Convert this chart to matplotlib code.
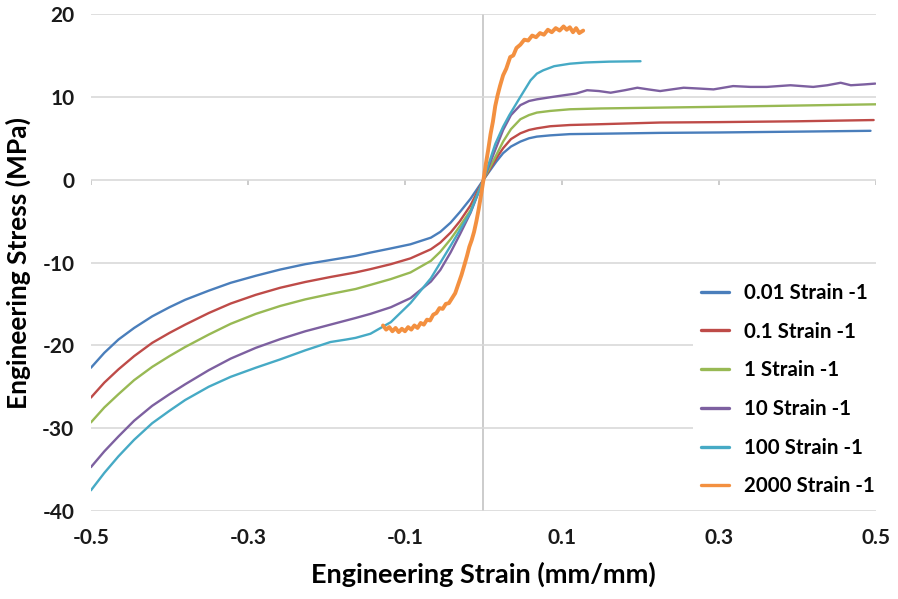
import matplotlib
matplotlib.use("Agg")
import matplotlib.pyplot as plt
import matplotlib.transforms as mtransforms

plt.rcParams['font.family'] = ['Lato', 'DejaVu Sans']
plt.rcParams['axes.unicode_minus'] = False

# strain / stress readings for each rate
x_001 = [-0.5, -0.483, -0.465, -0.445, -0.422, -0.4, -0.38, -0.35, -0.322, -0.29, -0.259, -0.227, -0.195,
         -0.163, -0.144, -0.118, -0.093, -0.067, -0.055, -0.042, -0.03, -0.0165, 0.0, 0.0165, 0.025, 0.035,
         0.047, 0.058, 0.068, 0.085, 0.11, 0.15, 0.225, 0.3, 0.4, 0.493]
y_001 = [-22.7, -20.9, -19.3, -17.9, -16.5, -15.4, -14.5, -13.4, -12.45, -11.6, -10.85, -10.2, -9.7,
         -9.2, -8.8, -8.3, -7.8, -7.0, -6.3, -5.2, -3.9, -2.3, 0.0, 2.2, 3.2, 4.0,
         4.6, 5.0, 5.2, 5.35, 5.5, 5.55, 5.65, 5.7, 5.8, 5.9]

x_01 = [-0.5, -0.483, -0.465, -0.445, -0.422, -0.4, -0.38, -0.35, -0.322, -0.29, -0.259, -0.227, -0.195,
        -0.163, -0.144, -0.118, -0.093, -0.067, -0.055, -0.042, -0.03, -0.0165, 0.0, 0.0165, 0.025, 0.035,
        0.047, 0.058, 0.068, 0.085, 0.11, 0.15, 0.225, 0.3, 0.4, 0.497]
y_01 = [-26.3, -24.5, -22.9, -21.3, -19.7, -18.5, -17.5, -16.1, -14.95, -13.9, -13.05, -12.35, -11.75,
        -11.2, -10.8, -10.2, -9.5, -8.4, -7.6, -6.4, -5.0, -3.1, 0.0, 2.6, 3.8, 4.9,
        5.6, 6.0, 6.2, 6.45, 6.6, 6.7, 6.9, 6.95, 7.05, 7.2]

x_1 = [-0.5, -0.483, -0.465, -0.445, -0.422, -0.4, -0.38, -0.35, -0.322, -0.29, -0.259, -0.227, -0.195,
       -0.163, -0.144, -0.118, -0.093, -0.067, -0.055, -0.042, -0.03, -0.0165, 0.0, 0.0165, 0.025, 0.035,
       0.047, 0.058, 0.068, 0.085, 0.11, 0.15, 0.225, 0.3, 0.4, 0.5]
y_1 = [-29.3, -27.5, -25.9, -24.2, -22.6, -21.3, -20.2, -18.7, -17.4, -16.2, -15.25, -14.45, -13.8,
       -13.2, -12.7, -12.0, -11.2, -9.8, -8.7, -7.2, -5.6, -3.7, 0.0, 3.0, 4.6, 6.1,
       7.3, 7.8, 8.1, 8.3, 8.5, 8.6, 8.7, 8.8, 8.95, 9.1]

x_10 = [-0.5, -0.483, -0.465, -0.445, -0.422, -0.4, -0.38, -0.35, -0.322, -0.29, -0.259, -0.227, -0.195,
        -0.163, -0.144, -0.118, -0.093, -0.067, -0.055, -0.042, -0.03, -0.0165, 0.0, 0.015, 0.025, 0.035,
        0.047, 0.058, 0.068, 0.085, 0.103, 0.118, 0.132, 0.147, 0.162, 0.18, 0.196, 0.21, 0.225, 0.24, 0.255,
        0.275, 0.293, 0.318, 0.34, 0.361, 0.391, 0.42, 0.438, 0.455, 0.468, 0.485, 0.499]
y_10 = [-34.7, -32.8, -31.0, -29.1, -27.3, -25.9, -24.7, -23.0, -21.6, -20.3, -19.25, -18.3, -17.5,
        -16.7, -16.2, -15.4, -14.3, -12.3, -10.9, -8.8, -6.6, -4.0, 0.0, 3.6, 6.0, 7.8,
        9.0, 9.5, 9.7, 9.95, 10.2, 10.4, 10.8, 10.7, 10.5, 10.8, 11.1, 10.9, 10.7, 10.9, 11.1,
        11.0, 10.9, 11.3, 11.2, 11.2, 11.4, 11.2, 11.4, 11.7, 11.4, 11.5, 11.6]

x_100 = [-0.5, -0.483, -0.465, -0.445, -0.422, -0.4, -0.38, -0.35, -0.322, -0.29, -0.259, -0.227, -0.195,
         -0.175, -0.163, -0.144, -0.118, -0.093, -0.067, -0.042, -0.0165, 0.0, 0.015, 0.025, 0.033, 0.047,
         0.06, 0.068, 0.076, 0.09, 0.11, 0.13, 0.16, 0.2]
y_100 = [-37.5, -35.4, -33.4, -31.4, -29.4, -27.9, -26.6, -25.0, -23.8, -22.7, -21.7, -20.6, -19.6,
         -19.3, -19.1, -18.6, -17.2, -14.9, -11.9, -8.0, -3.9, 0.0, 4.3, 6.4, 7.8, 10.0,
         12.0, 12.8, 13.2, 13.7, 14.0, 14.15, 14.25, 14.3]

x_2000 = [-0.128, -0.124, -0.12, -0.116, -0.112, -0.108, -0.104, -0.1, -0.096, -0.092, -0.088, -0.084, -0.08,
          -0.076, -0.072, -0.068, -0.064, -0.06, -0.056, -0.052, -0.048, -0.044, -0.04, -0.036, -0.032, -0.028,
          -0.024, -0.021, -0.018, -0.015, -0.012, -0.009, -0.006, -0.003, 0.0, 0.003, 0.006, 0.009, 0.012,
          0.015, 0.018, 0.021, 0.025, 0.029, 0.034, 0.038, 0.042, 0.047, 0.052, 0.057, 0.062, 0.067, 0.072,
          0.077, 0.082, 0.087, 0.092, 0.097, 0.102, 0.106, 0.11, 0.114, 0.118, 0.122, 0.127]
y_2000 = [-17.6, -18.1, -17.8, -18.3, -17.9, -18.4, -18.0, -18.3, -17.8, -18.1, -17.6, -17.9, -17.3,
          -17.5, -16.9, -17.0, -16.3, -16.1, -15.5, -15.6, -15.0, -14.9, -14.3, -13.7, -12.6, -11.5,
          -10.2, -9.2, -8.1, -7.3, -6.3, -5.0, -3.5, -1.8, 0.0, 1.9, 3.6, 5.5, 7.0,
          8.9, 10.2, 11.3, 12.6, 13.4, 14.8, 15.0, 15.9, 16.3, 16.9, 16.8, 17.4, 17.2, 17.7,
          17.5, 18.1, 17.8, 18.3, 18.0, 18.5, 18.1, 18.4, 17.8, 18.3, 17.7, 18.0]

series = [
    (x_001, y_001, "0.01 Strain -1", "#4a7ebb", 1.7),
    (x_01, y_01, "0.1 Strain -1", "#be4b48", 1.7),
    (x_1, y_1, "1 Strain -1", "#98b954", 1.7),
    (x_10, y_10, "10 Strain -1", "#7d60a0", 1.7),
    (x_100, y_100, "100 Strain -1", "#46aac5", 1.7),
    (x_2000, y_2000, "2000 Strain -1", "#f39040", 2.8),
]

x_ticks = [-0.5, -0.3, -0.1, 0.1, 0.3, 0.5]
y_ticks = [-40, -30, -20, -10, 0, 10, 20]

fig = plt.figure(figsize=(8.98, 5.99), dpi=100)
ax = fig.add_axes([0.1013, 0.1469, 0.8742, 0.8297])

for xs, ys, lab, col, lw in series:
    ax.plot(xs, ys, color=col, lw=lw, label=lab, solid_joinstyle="round", solid_capstyle="round", zorder=3)

ax.set_xlim(-0.5, 0.5)
ax.set_ylim(-40, 20)
ax.set_xticks(x_ticks)
ax.set_xticklabels([f"{t:g}" for t in x_ticks])
ax.set_yticks(y_ticks)
ax.grid(axis="y", color="#d9d9d9", lw=1.2, zorder=0)
ax.axvline(0, color="#c4c4c4", lw=1.2, zorder=1)

# little tick marks hanging off the zero line
tr = mtransforms.blended_transform_factory(ax.transData, ax.transData)
ax.vlines(x_ticks, -0.7, 0, color="#c4c4c4", lw=1.2, transform=tr, zorder=1)

for s in ax.spines.values():
    s.set_visible(False)
ax.tick_params(length=0, labelsize=15, pad=12)
for t in ax.get_xticklabels() + ax.get_yticklabels():
    t.set_fontweight("bold")
    t.set_color("#1a1a1a")

ax.set_xlabel("Engineering Strain (mm/mm)", fontsize=19.5, fontweight="bold", labelpad=10)
ax.set_ylabel("Engineering Stress (MPa)", fontsize=19, fontweight="bold", labelpad=8)

leg = ax.legend(loc="lower right", bbox_to_anchor=(1.022, -0.008), frameon=True, facecolor="white",
                edgecolor="none", framealpha=1, fontsize=14.8, handlelength=1.35, handletextpad=0.75,
                labelspacing=0.91, borderpad=0.4)
for t in leg.get_texts():
    t.set_fontweight("bold")
for h in leg.get_lines():
    h.set_linewidth(2.4)

fig.savefig("out.png", dpi=100)
